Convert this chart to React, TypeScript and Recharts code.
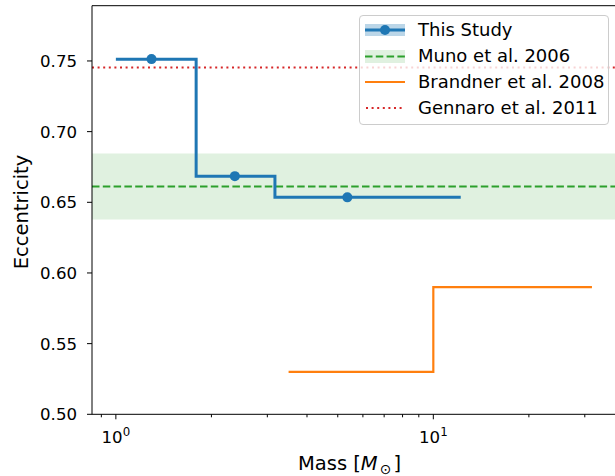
import { ComposedChart, Line, Scatter, XAxis, YAxis, ReferenceLine, ReferenceArea, Label } from "recharts"

const FONT = "'DejaVu Sans', 'Liberation Sans', sans-serif"

// This Study: step edges and eccentricity per bin
const studyEdges = [1.0, 1.79, 3.17, 12.2]
const studyEcc = [0.7513, 0.6685, 0.6535, 0.6535]
// bin markers
const studyMass = [1.295, 2.37, 5.36]
const studyMarkEcc = [0.7513, 0.6685, 0.6535]

// Brandner et al. 2008
const brandnerEdges = [3.5, 10, 31.6]
const brandnerEcc = [0.53, 0.59, 0.59]

// Muno et al. 2006 mean and range
const munoMean = 0.6612
const munoRange = [0.6379, 0.6846]
// Gennaro et al. 2011
const gennaroEcc = 0.7454

const xTicks = [0.9, 1, 2, 3, 4, 5, 6, 7, 8, 9, 10, 20, 30]
const xMajor: Record<number, string> = { 1: "0", 10: "1" }
const yTicks = [0.5, 0.55, 0.6, 0.65, 0.7, 0.75]
const xDomain = [0.841, 37.35]
const yDomain = [0.5, 0.7891]

const studyData = studyEdges.map((x, i) => ({ x, y: studyEcc[i] }))
const markData = studyMass.map((x, i) => ({ x, y: studyMarkEcc[i] }))
const brandnerData = brandnerEdges.map((x, i) => ({ x, y: brandnerEcc[i] }))

const legendItems = [
	{ label: "This Study", kind: "study" },
	{ label: "Muno et al. 2006", kind: "muno" },
	{ label: "Brandner et al. 2008", kind: "brandner" },
	{ label: "Gennaro et al. 2011", kind: "gennaro" },
]

function XTick(props: any) {
	const { x, y, payload } = props
	const exp = xMajor[payload.value]
	return (
		<g>
			<line x1={x} x2={x} y1={y} y2={y + (exp ? 5 : 3)} stroke="#000" strokeWidth={1} />
			{exp && (
				<text x={x} y={y + 29} textAnchor="middle" fontSize={16.6} fontFamily={FONT} fill="#000">
					10
					<tspan dy={-7} fontSize={11.8}>{exp}</tspan>
				</text>
			)}
		</g>
	)
}

function YTick(props: any) {
	const { x, y, payload } = props
	return (
		<g>
			<line x1={x - 5} x2={x} y1={y} y2={y} stroke="#000" strokeWidth={1} />
			<text x={x - 15} y={y + 6} textAnchor="end" fontSize={16.6} fontFamily={FONT} fill="#000">
				{payload.value.toFixed(2)}
			</text>
		</g>
	)
}

function Handle({ kind }: { kind: string }) {
	return (
		<svg width={40} height={26} style={{ display: "block" }}>
			{kind === "study" && (
				<>
					<rect x={0} y={7} width={40} height={12} fill="#1f77b4" fillOpacity={0.3} />
					<line x1={0} x2={40} y1={13} y2={13} stroke="#1f77b4" strokeWidth={3} />
					<circle cx={20} cy={13} r={5} fill="#1f77b4" />
				</>
			)}
			{kind === "muno" && (
				<>
					<rect x={0} y={7} width={40} height={13} fill="#2ca02c" fillOpacity={0.15} />
					<line x1={0} x2={40} y1={13.5} y2={13.5} stroke="#2ca02c" strokeWidth={2} strokeDasharray="7.5 3.3" />
				</>
			)}
			{kind === "brandner" && <line x1={0} x2={40} y1={13} y2={13} stroke="#ff7f0e" strokeWidth={2.2} />}
			{kind === "gennaro" && (
				<line x1={1} x2={40} y1={13} y2={13} stroke="#d62728" strokeWidth={2} strokeDasharray="2 3.6" />
			)}
		</svg>
	)
}

function LegendBox() {
	return (
		<div
			style={{
				position: "absolute",
				left: 359,
				top: 15,
				boxSizing: "border-box",
				width: 250,
				height: 110,
				border: "1px solid #cccccc",
				borderRadius: 4,
				background: "rgba(255,255,255,0.8)",
				fontFamily: FONT,
				fontSize: 18,
				lineHeight: "26px",
				color: "#000",
				padding: "1px 0 0 5px",
			}}
		>
			{legendItems.map((it) => (
				<div key={it.label} style={{ display: "flex", alignItems: "center", height: 26 }}>
					<Handle kind={it.kind} />
					<span style={{ marginLeft: 13, whiteSpace: "nowrap" }}>{it.label}</span>
				</div>
			))}
		</div>
	)
}

export default function App() {
	return (
		<div style={{ position: "fixed", left: 0, top: 0, width: 615, height: 476, overflow: "hidden", background: "#fff" }}>
			<ComposedChart width={615} height={476} margin={{ top: 5.7, right: 0, bottom: 0, left: 0 }}>
				<XAxis
					dataKey="x"
					type="number"
					scale="log"
					domain={xDomain}
					allowDataOverflow
					ticks={xTicks}
					interval={0}
					height={61.7}
					tickSize={0}
					tickMargin={0}
					tickLine={false}
					tick={<XTick />}
					axisLine={{ stroke: "#000", strokeWidth: 1 }}
				>
					<Label
						content={(p: any) => {
							const vb = p.viewBox
							return (
								<text x={vb.x + vb.width / 2 - 4} y={vb.y + 56} textAnchor="middle" fontSize={19.5} fontFamily={FONT} fill="#000">
									Mass [<tspan fontStyle="italic">M</tspan>
									<tspan dx={2} dy={4} fontSize={14}>⊙</tspan>
									<tspan dx={2} dy={-4}>]</tspan>
								</text>
							)
						}}
					/>
				</XAxis>
				<YAxis
					type="number"
					domain={yDomain}
					allowDataOverflow
					ticks={yTicks}
					interval={0}
					width={92}
					tickSize={0}
					tickMargin={0}
					tickLine={false}
					tick={<YTick />}
					axisLine={{ stroke: "#000", strokeWidth: 1 }}
				>
					<Label
						content={(p: any) => {
							const vb = p.viewBox
							const cx = 28
							const cy = vb.y + vb.height / 2 + 2
							return (
								<text x={cx} y={cy} transform={`rotate(-90 ${cx} ${cy})`} textAnchor="middle" fontSize={19.5} fontFamily={FONT} fill="#000">
									Eccentricity
								</text>
							)
						}}
					/>
				</YAxis>
				<ReferenceArea y1={munoRange[0]} y2={munoRange[1]} fill="#2ca02c" fillOpacity={0.15} stroke="none" ifOverflow="hidden" />
				<ReferenceLine y={munoMean} stroke="#2ca02c" strokeWidth={2} strokeDasharray="7.5 3.3" />
				<ReferenceLine y={gennaroEcc} stroke="#d62728" strokeWidth={2} strokeDasharray="2 3.6" />
				<ReferenceLine y={yDomain[1]} stroke="#000" strokeWidth={1} ifOverflow="visible" />
				<Line
					data={studyData}
					dataKey="y"
					type="stepAfter"
					stroke="#1f77b4"
					strokeWidth={3}
					dot={false}
					isAnimationActive={false}
				/>
				<Scatter
					data={markData}
					dataKey="y"
					fill="#1f77b4"
					isAnimationActive={false}
					shape={(p: any) => <circle cx={p.cx} cy={p.cy} r={5} fill="#1f77b4" />}
				/>
				<Line
					data={brandnerData}
					dataKey="y"
					type="stepAfter"
					stroke="#ff7f0e"
					strokeWidth={2.2}
					dot={false}
					isAnimationActive={false}
				/>
			</ComposedChart>
			<LegendBox />
		</div>
	)
}
